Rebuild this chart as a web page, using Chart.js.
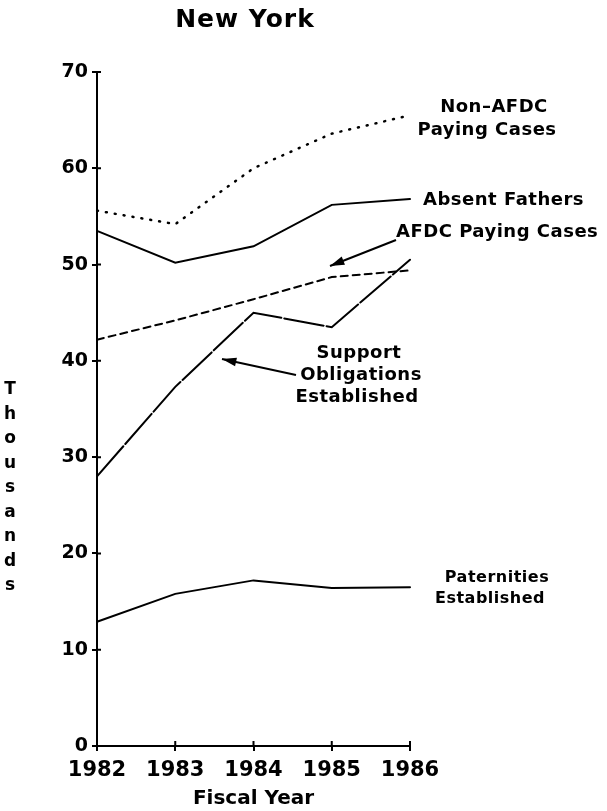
<!DOCTYPE html>
<html>
<head>
<meta charset="utf-8">
<script src="https://cdn.jsdelivr.net/npm/chart.js@4/dist/chart.umd.min.js"></script>
<style>
  html, body { margin: 0; padding: 0; background: #fff; }
  #chart { display: block; }
</style>
</head>
<body>
<canvas id="chart" width="607" height="811"></canvas>
<script>
// Fiscal years and series (thousands)
const years = ['1982', '1983', '1984', '1985', '1986'];
const nonAfdcPaying = [55.6, 54.2, 60.0, 63.6, 65.5];
const absentFathers = [53.5, 50.2, 51.9, 56.2, 56.8];
const afdcPaying = [42.2, 44.2, 46.4, 48.7, 49.4];
const supportObligations = [28.0, 37.3, 45.0, 43.5, 50.5];
const paternities = [12.9, 15.8, 17.2, 16.4, 16.5];

const yTicks = [0, 10, 20, 30, 40, 50, 60, 70];

const FONT = '"DejaVu Sans", "Liberation Sans", sans-serif';

// Text labels, arrows and inner tick marks drawn on top of the chart
const annotations = {
    id: 'annotations',
    afterDraw(chart) {
        const ctx = chart.ctx;
        const x = chart.scales.x;
        const y = chart.scales.y;
        ctx.save();
        ctx.fillStyle = '#000';
        ctx.strokeStyle = '#000';
        ctx.lineWidth = 2;

        // ticks cross the axes, so add the inner half
        ctx.beginPath();
        yTicks.forEach(v => {
            const py = y.getPixelForValue(v);
            ctx.moveTo(x.left, py);
            ctx.lineTo(x.left + 4, py);
        });
        years.forEach((yr, i) => {
            const px = x.getPixelForValue(i);
            ctx.moveTo(px, y.bottom);
            ctx.lineTo(px, y.bottom - 5);
        });
        ctx.stroke();

        ctx.textBaseline = 'middle';

        // Title
        ctx.font = 'bold 25px ' + FONT;
        ctx.letterSpacing = '1px';
        ctx.textAlign = 'center';
        ctx.fillText('New York', 245, 20);

        // Stacked y title
        ctx.font = 'bold 17px ' + FONT;
        ctx.letterSpacing = '0px';
        const word = 'Thousands';
        for (let i = 0; i < word.length; i++) {
            ctx.fillText(word[i], 10, 390 + i * 24.5);
        }

        // Series labels
        ctx.font = 'bold 18px ' + FONT;
        ctx.letterSpacing = '0.5px';
        ctx.textAlign = 'center';
        ctx.fillText('Non\u2013AFDC', 494, 107);
        ctx.fillText('Paying Cases', 487, 130);
        ctx.fillText('Support', 359, 353);
        ctx.fillText('Obligations', 361, 375);
        ctx.fillText('Established', 357, 397);
        ctx.textAlign = 'left';
        ctx.fillText('Absent Fathers', 423, 200);
        ctx.fillText('AFDC Paying Cases', 396, 232);
        ctx.font = 'bold 16px ' + FONT;
        ctx.textAlign = 'center';
        ctx.fillText('Paternities', 497, 578);
        ctx.fillText('Established', 490, 599);

        // Arrows
        drawArrow(ctx, 396, 240, 330, 266);
        drawArrow(ctx, 296, 375, 222, 359);
        ctx.restore();
    }
};

function drawArrow(ctx, x1, y1, x2, y2) {
    const ang = Math.atan2(y2 - y1, x2 - x1);
    ctx.lineWidth = 2;
    ctx.beginPath();
    ctx.moveTo(x1, y1);
    ctx.lineTo(x2, y2);
    ctx.stroke();
    ctx.beginPath();
    ctx.moveTo(x2, y2);
    ctx.lineTo(x2 - 15 * Math.cos(ang - 0.3), y2 - 15 * Math.sin(ang - 0.3));
    ctx.lineTo(x2 - 15 * Math.cos(ang + 0.3), y2 - 15 * Math.sin(ang + 0.3));
    ctx.closePath();
    ctx.fill();
}

function series(data, dash, width) {
    return {
        data: data,
        borderColor: '#000',
        borderWidth: width || 2,
        borderDash: dash || [],
        borderCapStyle: 'round',
        pointRadius: 0,
        fill: false,
        tension: 0
    };
}

new Chart(document.getElementById('chart'), {
    type: 'line',
    data: {
        labels: years,
        datasets: [
            series(nonAfdcPaying, [1, 8], 2.5),
            series(absentFathers),
            series(afdcPaying, [7, 5]),
            series(supportObligations, [40, 3]),
            series(paternities)
        ]
    },
    options: {
        responsive: false,
        animation: false,
        layout: { padding: { left: 0, right: 197, top: 72, bottom: 0 } },
        plugins: { legend: { display: false }, tooltip: { enabled: false } },
        scales: {
            x: {
                offset: false,
                grid: { drawOnChartArea: false, color: '#000', lineWidth: 2, tickLength: 5 },
                border: { color: '#000', width: 2 },
                ticks: { color: '#000', font: { family: FONT, weight: 'bold', size: 21 }, padding: 7, maxRotation: 0 },
                title: { display: true, text: 'Fiscal Year', color: '#000', font: { family: FONT, weight: 'bold', size: 20 }, padding: 0 },
                afterFit: s => { s.height = 65; }
            },
            y: {
                min: 0,
                max: 70,
                afterBuildTicks: s => { s.ticks = yTicks.map(v => ({ value: v })); },
                grid: { drawOnChartArea: false, color: '#000', lineWidth: 2, tickLength: 5 },
                border: { color: '#000', width: 2 },
                ticks: { color: '#000', font: { family: FONT, weight: 'bold', size: 19 }, padding: 4 },
                afterFit: s => { s.width = 97; }
            }
        }
    },
    plugins: [annotations]
});
</script>
</body>
</html>
